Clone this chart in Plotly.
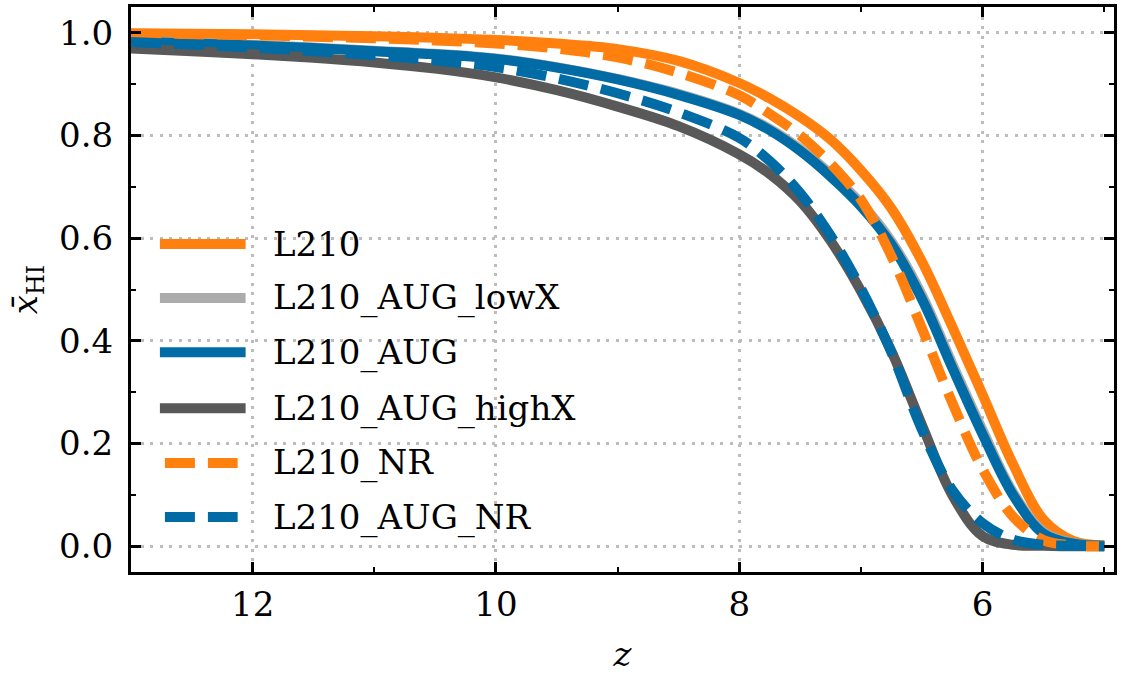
import plotly.graph_objects as go

# Redshift grid shared by every model curve
z = [13.0, 12.5, 12.0, 11.5, 11.0, 10.5, 10.0, 9.5, 9.0, 8.5, 8.0, 7.75,
     7.5, 7.25, 7.0, 6.75, 6.5, 6.25, 6.0, 5.75, 5.5, 5.25, 5.0]

# Volume-averaged neutral fraction for each run
x_L210 = [0.999, 0.998, 0.997, 0.995, 0.993, 0.990, 0.986, 0.979, 0.968, 0.945,
          0.902, 0.872, 0.836, 0.792, 0.732, 0.658, 0.555, 0.428, 0.295, 0.160,
          0.052, 0.010, 0.002]
x_AUG_lowX = [0.984, 0.980, 0.976, 0.971, 0.965, 0.959, 0.950, 0.933, 0.910, 0.881,
              0.842, 0.813, 0.774, 0.725, 0.668, 0.594, 0.490, 0.356, 0.226, 0.105,
              0.028, 0.006, 0.001]
x_AUG = [0.983, 0.979, 0.975, 0.970, 0.964, 0.958, 0.949, 0.932, 0.909, 0.879,
         0.840, 0.810, 0.770, 0.720, 0.662, 0.588, 0.482, 0.348, 0.218, 0.100,
         0.025, 0.005, 0.001]
x_AUG_highX = [0.969, 0.964, 0.958, 0.951, 0.942, 0.930, 0.913, 0.888, 0.856, 0.818,
               0.763, 0.725, 0.672, 0.595, 0.497, 0.380, 0.237, 0.100, 0.020, 0.003,
               0.001, 0.000, 0.000]
x_NR = [0.998, 0.997, 0.995, 0.992, 0.989, 0.985, 0.979, 0.969, 0.952, 0.922,
        0.878, 0.842, 0.800, 0.745, 0.675, 0.565, 0.425, 0.280, 0.150, 0.058,
        0.012, 0.002, 0.000]
x_AUG_NR = [0.982, 0.977, 0.971, 0.964, 0.956, 0.946, 0.933, 0.911, 0.882, 0.845,
            0.795, 0.750, 0.688, 0.605, 0.502, 0.378, 0.228, 0.110, 0.045, 0.013,
            0.003, 0.001, 0.000]

names = ["L210", "L210_AUG_lowX", "L210_AUG", "L210_AUG_highX", "L210_NR", "L210_AUG_NR"]
series = [x_L210, x_AUG_lowX, x_AUG, x_AUG_highX, x_NR, x_AUG_NR]
colors = ["#FF800E", "#ABABAB", "#006BA4", "#595959", "#FF800E", "#006BA4"]
dashed = [False, False, False, False, True, True]

x_ticks = [12, 10, 8, 6]
x_minor = [13, 11, 9, 7, 5]
y_ticks = [0.0, 0.2, 0.4, 0.6, 0.8, 1.0]
y_minor = [0.1, 0.3, 0.5, 0.7, 0.9]
y_ticklabels = ["0.0", "0.2", "0.4", "0.6", "0.8", "1.0"]

FONT = "DejaVu Serif"
FS = 34
LW = 10
DASH = "30px,13px"

fig = go.Figure()
for name, vals, col, dsh in zip(names, series, colors, dashed):
    fig.add_trace(go.Scatter(
        x=z, y=vals, mode="lines", name=name, showlegend=False,
        line=dict(color=col, width=LW, dash=DASH if dsh else "solid",
                  shape="spline", smoothing=1.0),
    ))

# Frameless legend drawn inside the axes, lower left
leg_y = [0.5805, 0.485, 0.389, 0.290, 0.193, 0.0973]
shapes = []
annotations = []
for name, col, dsh, yy in zip(names, colors, dashed, leg_y):
    x0, x1 = (0.0345, 0.1085) if dsh else (0.0294, 0.1166)
    shapes.append(dict(type="line", xref="paper", yref="paper",
                       x0=x0, x1=x1, y0=yy, y1=yy,
                       line=dict(color=col, width=LW, dash=DASH if dsh else "solid")))
    annotations.append(dict(xref="paper", yref="paper", x=0.142, y=yy,
                            xanchor="left", yanchor="middle", showarrow=False,
                            text=name, font=dict(family=FONT, size=FS, color="black")))

axis_common = dict(
    showline=True, linecolor="black", linewidth=3, mirror="allticks",
    ticks="inside", ticklen=10, tickwidth=3, tickcolor="black",
    showgrid=True, gridcolor="#bdbdbd", gridwidth=3, griddash="3px,6.5px",
    zeroline=False,
    tickfont=dict(family=FONT, size=FS, color="black"),
)

fig.update_layout(
    width=1121, height=678,
    margin=dict(l=131, r=4, t=7, b=106),
    paper_bgcolor="white", plot_bgcolor="white",
    font=dict(family=FONT, size=FS, color="black"),
    shapes=shapes, annotations=annotations,
    xaxis=dict(
        range=[13.0, 4.92], tickmode="array", tickvals=x_ticks,
        ticktext=[str(t) for t in x_ticks],
        minor=dict(tickmode="array", tickvals=x_minor, ticks="inside",
                   ticklen=5, tickwidth=2, tickcolor="black", showgrid=False),
        title=dict(text="<i>z</i>", font=dict(family=FONT, size=FS), standoff=20),
        ticklabelstandoff=0,
        **axis_common,
    ),
    yaxis=dict(
        range=[-0.05, 1.05], tickmode="array", tickvals=y_ticks,
        ticktext=y_ticklabels,
        minor=dict(tickmode="array", tickvals=y_minor, ticks="inside",
                   ticklen=5, tickwidth=2, tickcolor="black", showgrid=False),
        title=dict(text="<i>x\u0304</i><sub>HI</sub>", font=dict(family=FONT, size=FS),
                   standoff=12),
        ticklabelstandoff=8,
        **axis_common,
    ),
)

fig.write_html("out.html")
